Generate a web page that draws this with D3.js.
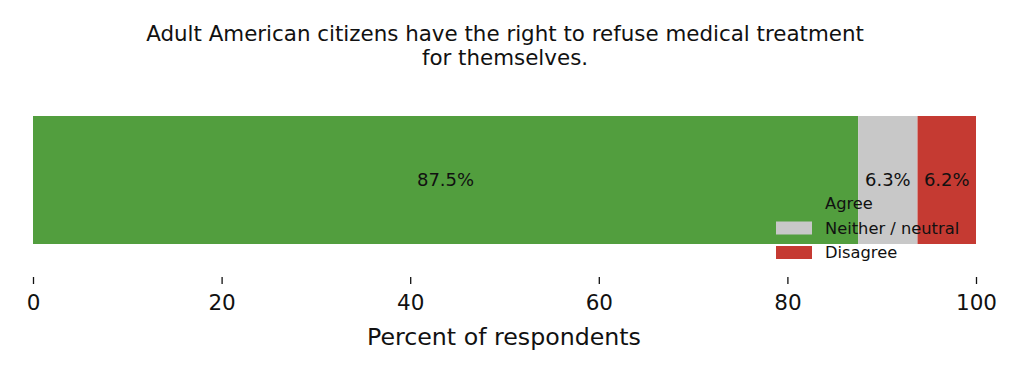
<!DOCTYPE html>
<html>
<head>
<meta charset="utf-8">
<script src="https://cdn.jsdelivr.net/npm/d3@7"></script>
<style>
  body { margin: 0; background: #fff; }
  svg { display: block; font-family: "DejaVu Sans", sans-serif; }
</style>
</head>
<body>
<svg width="1024" height="376"></svg>
<script>
// data
var categories = ["Agree", "Neither / neutral", "Disagree"];
var values = [87.5, 6.3, 6.2];
var colors = ["#529e3e", "#c8c8c8", "#c53a32"];
var xTicks = [0, 20, 40, 60, 80, 100];
var titleLines = ["Adult American citizens have the right to refuse medical treatment", "for themselves."];

var svg = d3.select("svg");
var x = d3.scaleLinear().domain([0, 100]).range([33, 976]);
var y = d3.scaleBand().domain(["q"]).range([116, 244]);

// stacked segments
var start = 0;
var segs = values.map(function(v, i) {
    var s = {cat: categories[i], v: v, x0: start, x1: start + v, color: colors[i]};
    start += v;
    return s;
});

svg.selectAll(".seg")
   .data(segs)
   .enter().append("rect")
   .attr("x", d => x(d.x0))
   .attr("y", y("q"))
   .attr("width", d => x(d.x1) - x(d.x0))
   .attr("height", y.bandwidth())
   .attr("fill", d => d.color);

svg.selectAll(".lbl")
   .data(segs)
   .enter().append("text")
   .attr("x", d => x((d.x0 + d.x1) / 2))
   .attr("y", y("q") + y.bandwidth() / 2)
   .attr("dy", "0.35em")
   .attr("text-anchor", "middle")
   .attr("font-size", "18px")
   .attr("fill", "#111")
   .text(d => d.v.toFixed(1) + "%");

// title
svg.selectAll(".title")
   .data(titleLines)
   .enter().append("text")
   .attr("x", 505)
   .attr("y", (d, i) => 41 + i * 24)
   .attr("text-anchor", "middle")
   .attr("font-size", "21.4px")
   .attr("fill", "#111")
   .text(d => d);

// x axis, no spine
var axis = svg.append("g")
   .attr("transform", "translate(0,277)")
   .call(d3.axisBottom(x).tickValues(xTicks).tickSize(7).tickPadding(11));
axis.select(".domain").remove();
axis.selectAll("text").attr("font-size", "21.5px").attr("font-family", "DejaVu Sans, sans-serif").attr("fill", "#111");
axis.selectAll("line").attr("stroke", "#111").attr("stroke-width", 1.3);

svg.append("text")
   .attr("x", 504)
   .attr("y", 345)
   .attr("text-anchor", "middle")
   .attr("font-size", "23.7px")
   .attr("fill", "#111")
   .text("Percent of respondents");

// legend
var leg = svg.append("g").attr("transform", "translate(776,197)");
var items = leg.selectAll("g")
   .data(segs)
   .enter().append("g")
   .attr("transform", (d, i) => "translate(0," + i * 24.5 + ")");
items.append("rect")
   .attr("width", 36)
   .attr("height", 13)
   .attr("fill", d => d.color);
items.append("text")
   .attr("x", 49)
   .attr("y", 6.5)
   .attr("dy", "0.35em")
   .attr("font-size", "16.3px")
   .attr("fill", "#111")
   .text(d => d.cat);
</script>
</body>
</html>
